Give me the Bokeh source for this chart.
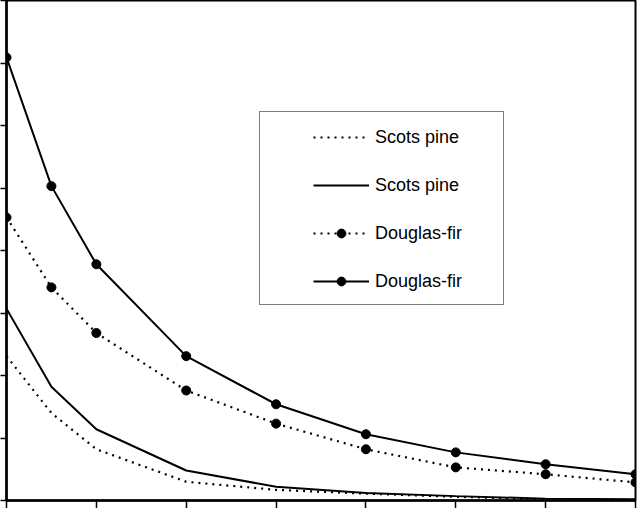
from bokeh.plotting import figure
from bokeh.models import (Range1d, FixedTicker, CustomJSTickFormatter, Legend, LegendItem)
from bokeh.embed import file_html
from bokeh.resources import INLINE

# ---- data ----
x_vals = [0, 0.5, 1, 2, 3, 4, 5, 6, 7]
scots_dotted = [2.31, 1.40, 0.82, 0.30, 0.17, 0.11, 0.06, 0.02, 0.01]
scots_solid = [3.07, 1.82, 1.14, 0.48, 0.22, 0.12, 0.07, 0.03, 0.02]
douglas_dotted = [4.53, 3.41, 2.68, 1.76, 1.23, 0.82, 0.53, 0.42, 0.29]
douglas_solid = [7.09, 5.03, 3.78, 2.31, 1.54, 1.06, 0.77, 0.58, 0.42]
x_ticks = [0, 1, 2, 3, 4, 5, 6, 7]
y_ticks = [0, 1, 2, 3, 4, 5, 6, 7, 8]
labels = ["Scots pine", "Scots pine", "Douglas-fir", "Douglas-fir"]

p = figure(width=638, height=508, output_backend="svg", toolbar_location=None,
           x_range=Range1d(0, 7), y_range=Range1d(0, 8),
           min_border_left=0, min_border_right=3, min_border_top=0, min_border_bottom=0)
p.background_fill_color = "white"
p.border_fill_color = "white"
p.outline_line_color = "black"
p.outline_line_width = 2
p.xgrid.visible = False
p.ygrid.visible = False

blank = CustomJSTickFormatter(code="return ''")
for ax, ticks, out in ((p.xaxis[0], x_ticks, 8), (p.yaxis[0], y_ticks, 6)):
    ax.ticker = FixedTicker(ticks=ticks)
    ax.formatter = blank
    ax.axis_line_width = 2.5
    ax.axis_line_color = "black"
    ax.major_tick_line_width = 1.5
    ax.major_tick_line_color = "black"
    ax.major_tick_in = 0
    ax.major_tick_out = out
    ax.minor_tick_line_color = None
    ax.major_label_standoff = 0

DOT = "2 5"
r1 = p.line(x_vals, scots_dotted, line_color="black", line_width=2.2, line_dash=DOT)
r2 = p.line(x_vals, scots_solid, line_color="black", line_width=2)
r3 = p.line(x_vals, douglas_dotted, line_color="black", line_width=2.2, line_dash=DOT)
r3m = p.scatter(x_vals, douglas_dotted, size=9, color="black")
r4 = p.line(x_vals, douglas_solid, line_color="black", line_width=2)
r4m = p.scatter(x_vals, douglas_solid, size=9, color="black")

items = [LegendItem(label=labels[0], renderers=[r1]),
         LegendItem(label=labels[1], renderers=[r2]),
         LegendItem(label=labels[2], renderers=[r3, r3m]),
         LegendItem(label=labels[3], renderers=[r4, r4m])]
legend = Legend(items=items, location=(253, 195),
                border_line_color="black", border_line_width=1.5,
                background_fill_color="white", background_fill_alpha=1,
                label_text_font="Liberation Sans", label_text_font_size="18px",
                label_text_color="black", label_standoff=6,
                glyph_height=22, label_height=22, spacing=26)
try:
    legend.padding = dict(left=53, right=41, top=14, bottom=12)
    legend.glyph_width = 56
except Exception:
    legend.padding = 13
    legend.glyph_width = 96
p.add_layout(legend, "center")

open("out.html", "w").write(file_html(p, INLINE))
